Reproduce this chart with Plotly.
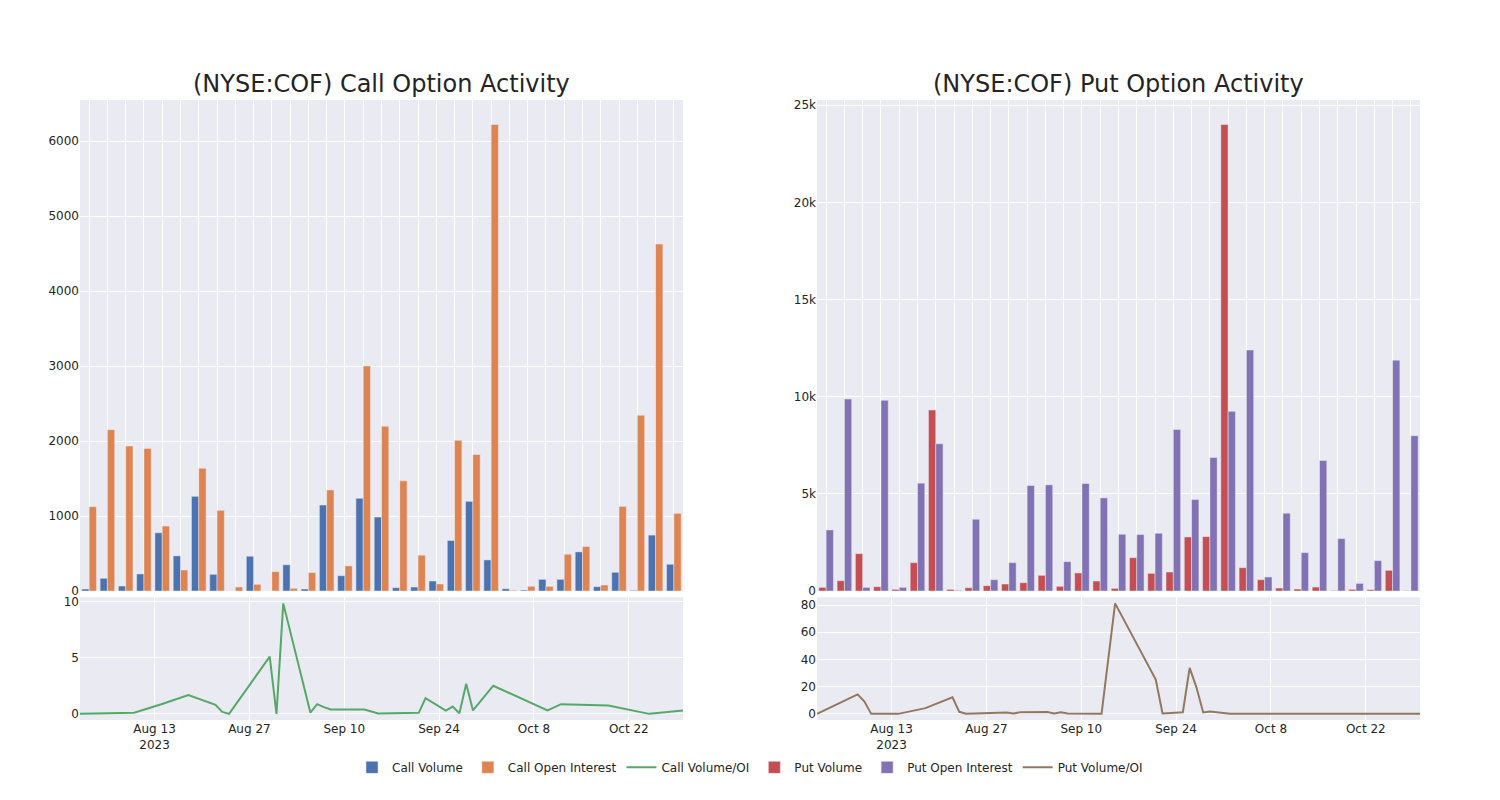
import plotly.graph_objects as go
from plotly.subplots import make_subplots

dates = ["2023-08-02", "2023-08-08", "2023-08-09", "2023-08-10", "2023-08-14", "2023-08-18",
         "2023-08-22", "2023-08-23", "2023-08-24", "2023-08-30", "2023-08-31", "2023-09-01",
         "2023-09-05", "2023-09-06", "2023-09-07", "2023-09-08", "2023-09-13", "2023-09-15",
         "2023-09-21", "2023-09-22", "2023-09-25", "2023-09-26", "2023-09-27", "2023-09-28",
         "2023-09-29", "2023-10-02", "2023-10-10", "2023-10-12", "2023-10-19", "2023-10-24",
         "2023-10-25", "2023-10-27", "2023-10-30"]

call_volume = [27, 170, 67, 228, 777, 469, 1263, 223, 0, 464, 0, 350, 27, 1147, 205, 1237, 987,
               45, 54, 134, 674, 1196, 415, 31, 13, 156, 156, 522, 58, 250, 9, 746, 357]
call_oi = [1125, 2152, 1933, 1902, 866, 281, 1638, 1076, 54, 89, 259, 36, 246, 1348, 335, 3000,
           2196, 1469, 478, 94, 2009, 1821, 6220, 10, 63, 62, 491, 594, 80, 1129, 2344, 4626, 1036]
call_ratio = [0, 0.05, 0.03, 0.1, 0.85, 1.67, 0.8, 0.18, 0, 5.09, 0, 9.82, 0.12, 0.86, 0.6, 0.39,
              0.39, 0.03, 0.09, 1.4, 0.3, 0.65, 0.06, 2.68, 0.3, 2.5, 0.3, 0.86, 0.74, 0.18, 0,
              0.12, 0.3]

put_volume = [189, 533, 1924, 223, 86, 1460, 9313, 86, 172, 275, 361, 430, 808, 241, 928, 515,
              137, 1718, 911, 979, 2784, 2801, 24000, 1203, 584, 155, 103, 206, 20, 86, 69, 1065, 17]
put_oi = [3144, 9880, 189, 9811, 189, 5550, 7577, 34, 3694, 584, 1460, 5430, 5464, 1512, 5533,
          4794, 2921, 2904, 2973, 8316, 4708, 6873, 9244, 12400, 722, 4003, 1976, 6718, 2698, 395,
          1564, 11880, 7990]
put_ratio = [0, 14.3, 9.1, 0, 0, 4.2, 12.1, 1.5, 0.1, 1.0, 0.3, 1.2, 1.4, 0.3, 1.2, 0.2, 0,
             81.2, 25.2, 0.3, 1.2, 33.8, 19.5, 1.0, 1.7, 0.1, 0.1, 0.1, 0.1, 0.1, 0.1, 0.1, 0]

titles = ["(NYSE:COF) Call Option Activity", "(NYSE:COF) Put Option Activity"]

fig = make_subplots(rows=2, cols=2, row_heights=[0.8, 0.2], vertical_spacing=0.01,
                    horizontal_spacing=0.1, subplot_titles=titles)

fig.add_trace(go.Bar(x=dates, y=call_volume, name="Call Volume"), row=1, col=1)
fig.add_trace(go.Bar(x=dates, y=call_oi, name="Call Open Interest"), row=1, col=1)
fig.add_trace(go.Scatter(x=dates, y=call_ratio, mode="lines", name="Call Volume/OI"), row=2, col=1)
fig.add_trace(go.Bar(x=dates, y=put_volume, name="Put Volume"), row=1, col=2)
fig.add_trace(go.Bar(x=dates, y=put_oi, name="Put Open Interest"), row=1, col=2)
fig.add_trace(go.Scatter(x=dates, y=put_ratio, mode="lines", name="Put Volume/OI"), row=2, col=2)

fig.update_layout(
    template="seaborn",
    font=dict(family="DejaVu Sans", size=12),
    width=1500, height=800,
    margin=dict(l=72, r=88, t=92, b=88),
    barmode="group",
    legend=dict(orientation="h", x=0.5, xanchor="center", y=-0.053, yanchor="top"),
)
fig.update_annotations(font=dict(size=24, family="DejaVu Sans"))
fig.update_xaxes(type="category", showticklabels=False, row=1, col=1)
fig.update_xaxes(type="category", showticklabels=False, row=1, col=2)
fig.update_xaxes(type="date", row=2, col=1)
fig.update_xaxes(type="date", row=2, col=2)

fig.write_html("out.html")
